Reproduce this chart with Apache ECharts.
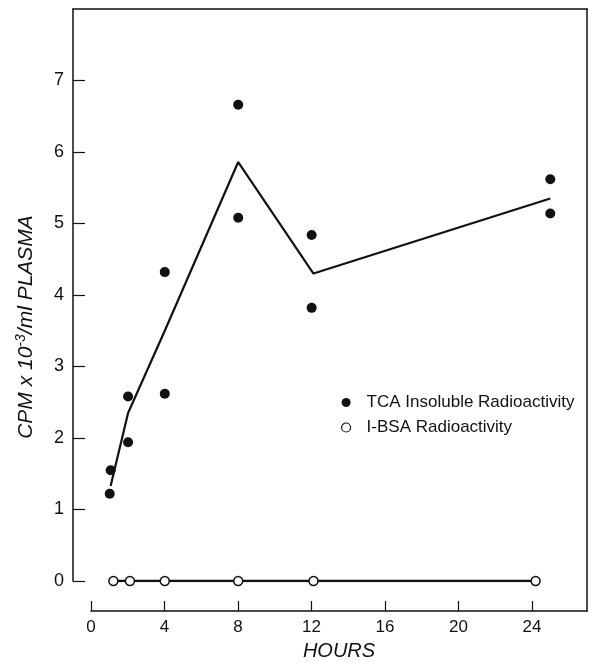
<!DOCTYPE html>
<html>
<head>
<meta charset="utf-8">
<script src="https://cdn.jsdelivr.net/npm/echarts@6/dist/echarts.min.js"></script>
<style>
  html, body { margin: 0; padding: 0; background: #fff; }
  #chart { width: 597px; height: 666px; }
</style>
</head>
<body>
<div id="chart"></div>
<script>
// TCA insoluble radioactivity, individual samples
const tcaHours = [1, 1.05, 2, 2, 4, 4, 8, 8, 12, 12, 25, 25];
const tcaValues = [1.22, 1.55, 2.58, 1.94, 4.32, 2.62, 6.66, 5.08, 4.84, 3.82, 5.62, 5.14];

// line through the TCA means
const meanHours = [1.05, 2, 4, 8, 12.1, 25];
const meanValues = [1.33, 2.35, 3.5, 5.86, 4.3, 5.35];

// I-BSA radioactivity
const bsaHours = [1.2, 2.1, 4, 8, 12.1, 24.2];
const bsaValues = [0, 0, 0, 0, 0, 0];

const hourTicks = [0, 4, 8, 12, 16, 20, 24];
const cpmTicks = [0, 1, 2, 3, 4, 5, 6, 7];

const ink = "#111";
const font = "Liberation Sans";

(function () {
  const myChart = echarts.init(document.getElementById("chart"));

  const zip = (xs, ys) => xs.map((x, i) => [x, ys[i]]);

  const option = {
    animation: false,
    backgroundColor: "#fff",
    textStyle: { fontFamily: font, color: ink },
    grid: [
      { left: 73, top: 9, right: 10, bottom: 85 },
      { left: 91, top: 9, right: 10, bottom: 51 },
    ],
    legend: {
      orient: "vertical",
      left: 336,
      top: 389,
      itemWidth: 25,
      itemHeight: 9,
      itemGap: 8,
      textStyle: { fontSize: 17, color: ink, fontFamily: font, padding: [0, 0, 0, 3] },
      data: [
        { name: "TCA Insoluble Radioactivity", icon: "circle",
          itemStyle: { color: ink, borderWidth: 0, opacity: 1 } },
        { name: "I-BSA Radioactivity", icon: "circle",
          itemStyle: { color: "#fff", borderColor: ink, borderWidth: 1.2 } },
      ],
    },
    xAxis: [
      {
        gridIndex: 0,
        type: "value",
        position: "top",
        min: -1,
        max: 27,
        axisLine: { onZero: false, lineStyle: { color: ink, width: 1.5 } },
        axisTick: { show: false },
        axisLabel: { show: false },
        splitLine: { show: false },
      },
      {
        gridIndex: 1,
        type: "value",
        position: "bottom",
        min: 0,
        max: 27,
        name: "HOURS",
        nameLocation: "middle",
        nameGap: 30,
        nameTextStyle: { fontSize: 20, fontStyle: "italic", color: ink, fontFamily: font },
        axisLine: { onZero: false, lineStyle: { color: ink, width: 1.5 } },
        axisTick: { inside: true, length: 10, customValues: hourTicks,
          lineStyle: { color: ink, width: 1.2 } },
        axisLabel: { customValues: hourTicks, fontSize: 17, margin: 8, color: ink },
        splitLine: { show: false },
      },
    ],
    yAxis: [
      {
        gridIndex: 0,
        type: "value",
        min: 0,
        max: 8,
        name: "{a|CPM x 10}{s|-3}{a|/ml PLASMA}",
        nameLocation: "middle",
        nameRotate: 90,
        nameGap: 34,
        nameTextStyle: {
          padding: [0, 64, 0, 0],
          rich: {
            a: { fontSize: 21, fontStyle: "italic", color: ink, fontFamily: font, lineHeight: 25 },
            s: { fontSize: 14, fontStyle: "italic", color: ink, fontFamily: font,
              verticalAlign: "top", lineHeight: 25, padding: [0, 0, 8, 0] },
          },
        },
        axisLine: { onZero: false, lineStyle: { color: ink, width: 1.5 } },
        axisTick: { inside: true, length: 12, customValues: cpmTicks,
          lineStyle: { color: ink, width: 1.2 } },
        axisLabel: { customValues: cpmTicks, fontSize: 18, margin: 9, color: ink },
        splitLine: { show: false },
      },
      {
        gridIndex: 1,
        type: "value",
        position: "right",
        min: 0,
        max: 1,
        axisLine: { show: true, onZero: false, lineStyle: { color: ink, width: 1.5 } },
        axisTick: { show: false },
        axisLabel: { show: false },
        splitLine: { show: false },
      },
    ],
    series: [
      {
        name: "TCA Insoluble Radioactivity",
        type: "scatter",
        xAxisIndex: 0,
        yAxisIndex: 0,
        symbol: "circle",
        symbolSize: 10,
        itemStyle: { color: ink, opacity: 1 },
        data: zip(tcaHours, tcaValues),
        z: 4,
      },
      {
        name: "TCA mean",
        type: "line",
        xAxisIndex: 0,
        yAxisIndex: 0,
        showSymbol: false,
        lineStyle: { color: ink, width: 2.2 },
        data: zip(meanHours, meanValues),
        z: 3,
      },
      {
        name: "I-BSA Radioactivity",
        type: "line",
        xAxisIndex: 0,
        yAxisIndex: 0,
        symbol: "circle",
        symbolSize: 9,
        itemStyle: { color: "#fff", borderColor: ink, borderWidth: 1.5 },
        lineStyle: { color: ink, width: 2.5 },
        data: zip(bsaHours, bsaValues),
        z: 3,
      },
    ],
  };

  myChart.setOption(option);

  window.addEventListener("resize", function () {
    myChart.resize();
  });
})();
</script>
</body>
</html>
